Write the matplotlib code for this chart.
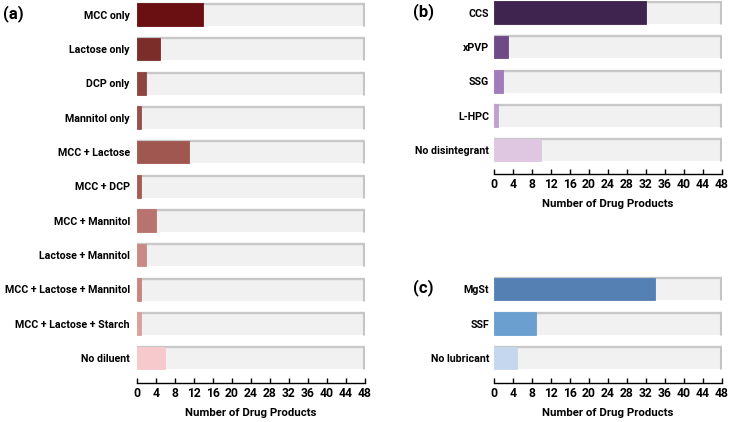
import matplotlib
matplotlib.use("Agg")
import matplotlib.pyplot as plt

plt.rcParams['font.family'] = ['Roboto', 'DejaVu Sans']

W, H = 729, 422
DPI = 100

diluent_labels = ["MCC only", "Lactose only", "DCP only", "Mannitol only", "MCC + Lactose",
                  "MCC + DCP", "MCC + Mannitol", "Lactose + Mannitol",
                  "MCC + Lactose + Mannitol", "MCC + Lactose + Starch", "No diluent"]
diluent_values = [14, 5, 2, 1, 11, 1, 4, 2, 1, 1, 6]
diluent_colors = ["#6a0f12", "#7b2d2a", "#8e4541", "#974f4a", "#a0574f", "#a65b55",
                  "#b8736e", "#c98a85", "#c9847e", "#d9a19d", "#f7c8cc"]

disint_labels = ["CCS", "xPVP", "SSG", "L-HPC", "No disintegrant"]
disint_values = [32, 3, 2, 1, 10]
disint_colors = ["#3f2450", "#6e4a86", "#a07cba", "#c0a0d0", "#dfc7e2"]

lub_labels = ["MgSt", "SSF", "No lubricant"]
lub_values = [34, 9, 5]
lub_colors = ["#5480b4", "#6b9fcf", "#c4d7ee"]

xmax = 48
xticks = list(range(0, 49, 4))

fig = plt.figure(figsize=(W / DPI, H / DPI), dpi=DPI)


def panel(labels, values, colors, x0, x1, c0, pitch, top, bottom, letter, letter_x, label_pad):
    ax = fig.add_axes([x0 / W, 1 - bottom / H, (x1 - x0) / W, (bottom - top) / H])
    n = len(labels)
    ys = list(range(n))
    h = 0.66
    ax.barh(ys, [xmax] * n, height=h, color="#f1f1f1", zorder=1)
    for y in ys:
        ax.plot([0, xmax], [y - h / 2 + 0.02, y - h / 2 + 0.02], color="#c8c8c8", lw=1.7,
                zorder=2, solid_capstyle="butt")
        ax.plot([xmax - 0.2, xmax - 0.2], [y - h / 2, y + h / 2], color="#c4c4c4", lw=2.2,
                zorder=2, solid_capstyle="butt")
    ax.barh(ys, values, height=h, color=colors, edgecolor=colors, linewidth=0.6, zorder=3)
    ax.set_xlim(0, xmax)
    ax.set_ylim((bottom - c0) / pitch, (top - c0) / pitch)
    ax.set_yticks(ys)
    ax.set_yticklabels(labels, fontsize=7.7, fontweight="bold")
    ax.tick_params(axis="y", length=0, pad=label_pad)
    ax.set_xticks(xticks)
    ax.set_xticklabels([str(t) for t in xticks], fontsize=8.7, fontweight="bold")
    ax.tick_params(axis="x", direction="in", length=3.5, width=1, pad=3.2, colors="black")
    for s in ["left", "right", "top"]:
        ax.spines[s].set_visible(False)
    ax.spines["bottom"].set_linewidth(1)
    ax.set_xlabel("Number of Drug Products", fontsize=8.2, fontweight="bold", labelpad=5.5)
    fig.text(letter_x / W, 1 - (c0 - 1) / H, letter, fontsize=12, fontweight="bold",
             ha="left", va="center")
    return ax


panel(diluent_labels, diluent_values, diluent_colors, 136.7, 364.7, 14.7, 34.33, 0.5, 382.7,
      "(a)", 3, 5.0)
panel(disint_labels, disint_values, disint_colors, 493.7, 721.7, 12.8, 34.3, 0.5, 173.5,
      "(b)", 413, 3.4)
panel(lub_labels, lub_values, lub_colors, 493.7, 721.7, 289.0, 34.5, 270, 383.0,
      "(c)", 413, 3.4)

fig.savefig("out.png", dpi=DPI)
